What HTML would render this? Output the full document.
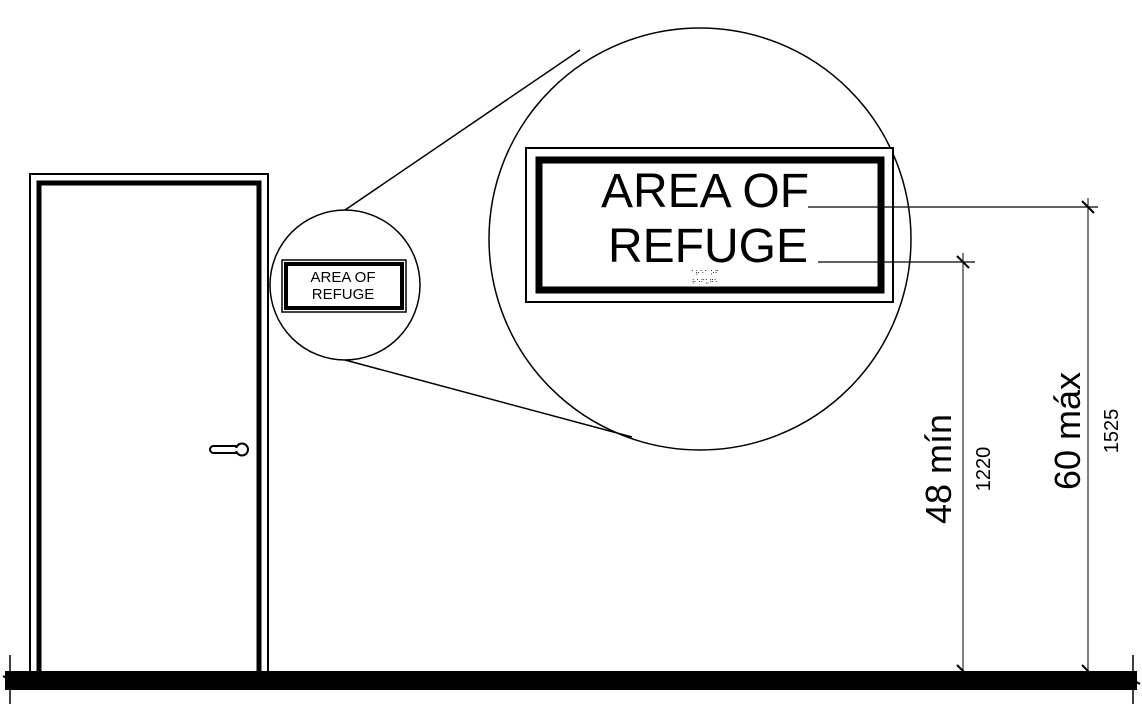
<!DOCTYPE html>
<html><head><meta charset="utf-8"><style>
html,body{margin:0;padding:0;background:#fff;}
svg{display:block;}
text{font-family:"Liberation Sans",sans-serif;fill:#000;}
</style></head><body>
<svg width="1142" height="706" viewBox="0 0 1142 706" xmlns="http://www.w3.org/2000/svg">
<!-- floor -->
<rect x="5" y="671" width="1132" height="19" fill="#000"/>
<line x1="10" y1="655" x2="10" y2="704" stroke="#000" stroke-width="1.5"/>
<line x1="1133" y1="655" x2="1133" y2="704" stroke="#000" stroke-width="1.5"/>
<line x1="3" y1="676" x2="17" y2="684" stroke="#000" stroke-width="2"/>
<line x1="1126" y1="676" x2="1140" y2="684" stroke="#000" stroke-width="2"/>
<!-- door -->
<path d="M30 671 V174 H268 V671" fill="none" stroke="#000" stroke-width="2"/>
<path d="M39 671 V183 H259 V671" fill="none" stroke="#000" stroke-width="5"/>
<!-- handle -->
<rect x="210" y="446" width="34" height="7" rx="3.5" fill="#fff" stroke="#000" stroke-width="2"/>
<circle cx="242" cy="449.5" r="6" fill="#fff" stroke="#000" stroke-width="2"/>
<line x1="212" y1="449.5" x2="240" y2="449.5" stroke="#fff" stroke-width="3"/>
<!-- small circle -->
<circle cx="345" cy="285" r="75" fill="none" stroke="#000" stroke-width="1.5"/>
<rect x="282" y="260" width="124" height="52" fill="none" stroke="#000" stroke-width="1.5"/>
<rect x="286" y="264" width="116" height="44" fill="none" stroke="#000" stroke-width="4"/>
<text x="343" y="282" font-size="15" text-anchor="middle">AREA OF</text>
<text x="343" y="299" font-size="15" text-anchor="middle">REFUGE</text>
<!-- tangent lines -->
<line x1="345" y1="210" x2="580" y2="50" stroke="#000" stroke-width="1.5"/>
<line x1="345" y1="360" x2="632" y2="437" stroke="#000" stroke-width="1.5"/>
<!-- big circle -->
<circle cx="700" cy="239" r="211" fill="none" stroke="#000" stroke-width="1.5"/>
<rect x="526" y="148" width="367" height="154" fill="#fff" stroke="#000" stroke-width="2"/>
<rect x="539" y="160" width="342" height="130" fill="none" stroke="#000" stroke-width="7"/>
<text x="705" y="207" font-size="48" text-anchor="middle">AREA OF</text>
<text x="708" y="262" font-size="48" text-anchor="middle">REFUGE</text>
<text x="705" y="275" font-size="6" text-anchor="middle">⠁⠗⠑⠁ ⠕⠋</text>
<text x="705" y="284" font-size="6" text-anchor="middle">⠗⠑⠋⠥⠛⠑</text>
<!-- dimension lines -->
<line x1="808" y1="207" x2="1098" y2="207" stroke="#000" stroke-width="1.2"/>
<line x1="818" y1="262" x2="975" y2="262" stroke="#000" stroke-width="1.2"/>
<line x1="1088" y1="198" x2="1088" y2="671" stroke="#000" stroke-width="1"/>
<line x1="963" y1="253" x2="963" y2="671" stroke="#000" stroke-width="1"/>
<line x1="1082" y1="201" x2="1094" y2="213" stroke="#000" stroke-width="2"/>
<line x1="957" y1="256" x2="969" y2="268" stroke="#000" stroke-width="2"/>
<line x1="957" y1="665" x2="965" y2="673" stroke="#000" stroke-width="2"/>
<line x1="1082" y1="665" x2="1090" y2="673" stroke="#000" stroke-width="2"/>
<!-- labels -->
<text transform="translate(951,469) rotate(-90)" font-size="36" text-anchor="middle">48 mín</text>
<text transform="translate(990,469) rotate(-90)" font-size="20" text-anchor="middle">1220</text>
<text transform="translate(1080,431) rotate(-90)" font-size="36" text-anchor="middle">60 máx</text>
<text transform="translate(1118,431) rotate(-90)" font-size="20" text-anchor="middle">1525</text>
</svg>
</body></html>
